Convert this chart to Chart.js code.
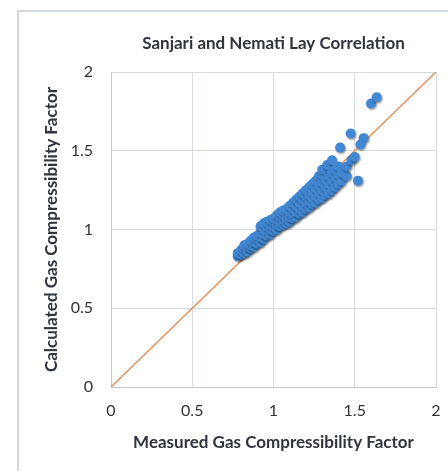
<!DOCTYPE html>
<html>
<head>
<meta charset="utf-8">
<script src="https://cdn.jsdelivr.net/npm/chart.js@4/dist/chart.umd.min.js"></script>
<style>
  body { margin: 0; background: #fff; overflow: hidden; }
  #wrap { position: relative; width: 448px; height: 471px; }
  #frame { position: absolute; left: 17px; top: 10px; width: 460px; height: 480px;
           border-left: 2px solid #d3d7de; border-top: 2px solid #d3d7de; }
  #chart { position: absolute; left: 0; top: 0; }
</style>
</head>
<body>
<div id="wrap">
  <div id="frame"></div>
  <canvas id="chart" width="448" height="471"></canvas>
</div>
<script>
// 刻度
const tickValues = [0, 0.5, 1, 1.5, 2];

// 实测 Z（x轴）
const measured = [
  0.78, 0.78,
  0.80, 0.80,
  0.82, 0.82, 0.82,
  0.84, 0.84, 0.84,
  0.86, 0.86, 0.86,
  0.88, 0.88, 0.88,
  0.90, 0.90, 0.90,
  0.92, 0.92, 0.92, 0.92,
  0.94, 0.94, 0.94, 0.94,
  0.96, 0.96, 0.96, 0.96,
  0.98, 0.98, 0.98, 0.98,
  1.00, 1.00, 1.00, 1.00,
  1.02, 1.02, 1.02, 1.02,
  1.04, 1.04, 1.04, 1.04,
  1.06, 1.06, 1.06, 1.06,
  1.08, 1.08, 1.08, 1.08,
  1.10, 1.10, 1.10, 1.10,
  1.12, 1.12, 1.12, 1.12,
  1.14, 1.14, 1.14, 1.14,
  1.16, 1.16, 1.16, 1.16,
  1.18, 1.18, 1.18, 1.18,
  1.20, 1.20, 1.20, 1.20,
  1.22, 1.22, 1.22, 1.22,
  1.24, 1.24, 1.24, 1.24,
  1.26, 1.26, 1.26, 1.26,
  1.28, 1.28, 1.28, 1.28,
  1.30, 1.30, 1.30, 1.30, 1.30,
  1.32, 1.32, 1.32, 1.32,
  1.34, 1.34, 1.34, 1.34, 1.33,
  1.36, 1.36, 1.36, 1.36,
  1.38, 1.38, 1.38,
  1.40, 1.40, 1.40,
  1.42, 1.42,
  1.45, 1.45,
  1.48, 1.50, 1.52,
  1.41, 1.475, 1.555, 1.535,
  1.60, 1.635
];

// 计算 Z（y轴）
const calculated = [
  0.83, 0.85,
  0.84, 0.87,
  0.85, 0.88, 0.90,
  0.86, 0.89, 0.91,
  0.88, 0.90, 0.93,
  0.89, 0.92, 0.95,
  0.91, 0.94, 0.96,
  0.92, 0.95, 0.98, 1.02,
  0.94, 0.97, 1.00, 1.04,
  0.96, 0.99, 1.02, 1.05,
  0.97, 1.00, 1.03, 1.06,
  0.99, 1.02, 1.05, 1.07,
  1.00, 1.03, 1.06, 1.09,
  1.02, 1.05, 1.08, 1.11,
  1.03, 1.06, 1.09, 1.12,
  1.04, 1.07, 1.10, 1.13,
  1.05, 1.08, 1.11, 1.15,
  1.07, 1.10, 1.13, 1.17,
  1.08, 1.11, 1.15, 1.19,
  1.10, 1.13, 1.17, 1.21,
  1.11, 1.15, 1.19, 1.23,
  1.13, 1.17, 1.21, 1.25,
  1.14, 1.18, 1.22, 1.27,
  1.16, 1.20, 1.24, 1.29,
  1.17, 1.21, 1.26, 1.31,
  1.19, 1.23, 1.28, 1.34,
  1.20, 1.25, 1.30, 1.35, 1.38,
  1.22, 1.27, 1.32, 1.38,
  1.23, 1.29, 1.34, 1.39, 1.41,
  1.25, 1.31, 1.36, 1.44,
  1.27, 1.33, 1.38,
  1.29, 1.35, 1.40,
  1.31, 1.36,
  1.34, 1.40,
  1.44, 1.46, 1.31,
  1.52, 1.61, 1.58, 1.54,
  1.80, 1.84
];

// y = x 参考线
const lineX = [0, 2];
const lineY = [0, 2];

const points = measured.map((m, i) => ({ x: m, y: calculated[i] }));
const refLine = lineX.map((v, i) => ({ x: v, y: lineY[i] }));

// 给散点加一点阴影（Excel 那种效果）
const shadowPlugin = {
  id: 'shadow',
  beforeDatasetDraw(chart, args) {
    if (args.index !== 1) return;
    const ctx = chart.ctx;
    ctx.save();
    ctx.shadowColor = 'rgba(0,0,0,0.4)';
    ctx.shadowBlur = 2;
    ctx.shadowOffsetX = 1;
    ctx.shadowOffsetY = 1.5;
  },
  afterDatasetDraw(chart, args) {
    if (args.index !== 1) return;
    chart.ctx.restore();
  }
};

const textColor = '#2f343e';
const gridColor = '#d6dae1';
const tickFont = { family: 'Lato', size: 16 };
const titleFont = { family: 'Lato', size: 17, weight: 'bold' };

const ctx = document.getElementById('chart');
const chart = new Chart(ctx, {
  type: 'scatter',
  data: {
    datasets: [
      {
        type: 'line',
        data: refLine,
        borderColor: '#e39158',
        borderWidth: 1.5,
        pointRadius: 0,
        order: 2
      },
      {
        data: points,
        backgroundColor: '#4187d2',
        borderColor: '#4187d2',
        borderWidth: 0,
        pointRadius: 5,
        order: 1
      }
    ]
  },
  options: {
    responsive: false,
    animation: false,
    layout: { padding: { left: 0, right: 12, top: 0, bottom: 0 } },
    plugins: {
      legend: { display: false },
      tooltip: { enabled: false },
      title: {
        display: true,
        fullSize: false,   // 只在绘图区上方居中
        text: 'Sanjari and Nemati Lay Correlation',
        color: textColor,
        font: titleFont,
        padding: { top: 33.8, bottom: 17.8 }
      }
    },
    scales: {
      x: {
        type: 'linear',
        min: 0, max: 2,
        afterBuildTicks: s => { s.ticks = tickValues.map(v => ({ value: v })); },
        afterFit: s => { s.height = 84; s.paddingLeft = 0; s.paddingRight = 0; },
        grid: { color: gridColor, drawTicks: false },
        border: { color: '#c3c8d0' },
        ticks: { color: '#333333', font: tickFont, padding: 14, callback: v => String(v) },
        title: {
          display: true,
          text: 'Measured Gas Compressibility Factor',
          color: textColor,
          font: titleFont,
          padding: 17.8
        }
      },
      y: {
        type: 'linear',
        min: 0, max: 2,
        afterBuildTicks: s => { s.ticks = tickValues.map(v => ({ value: v })); },
        afterFit: s => { s.width = 111; },
        grid: { color: gridColor, drawTicks: false },
        border: { color: '#c3c8d0' },
        ticks: { color: '#333333', font: tickFont, padding: 18, callback: v => String(v) },
        title: {
          display: true,
          text: 'Calculated Gas Compressibility Factor',
          color: textColor,
          font: titleFont,
          padding: { top: 41.8, bottom: 0 }
        }
      }
    }
  },
  plugins: [shadowPlugin]
});
</script>
</body>
</html>
